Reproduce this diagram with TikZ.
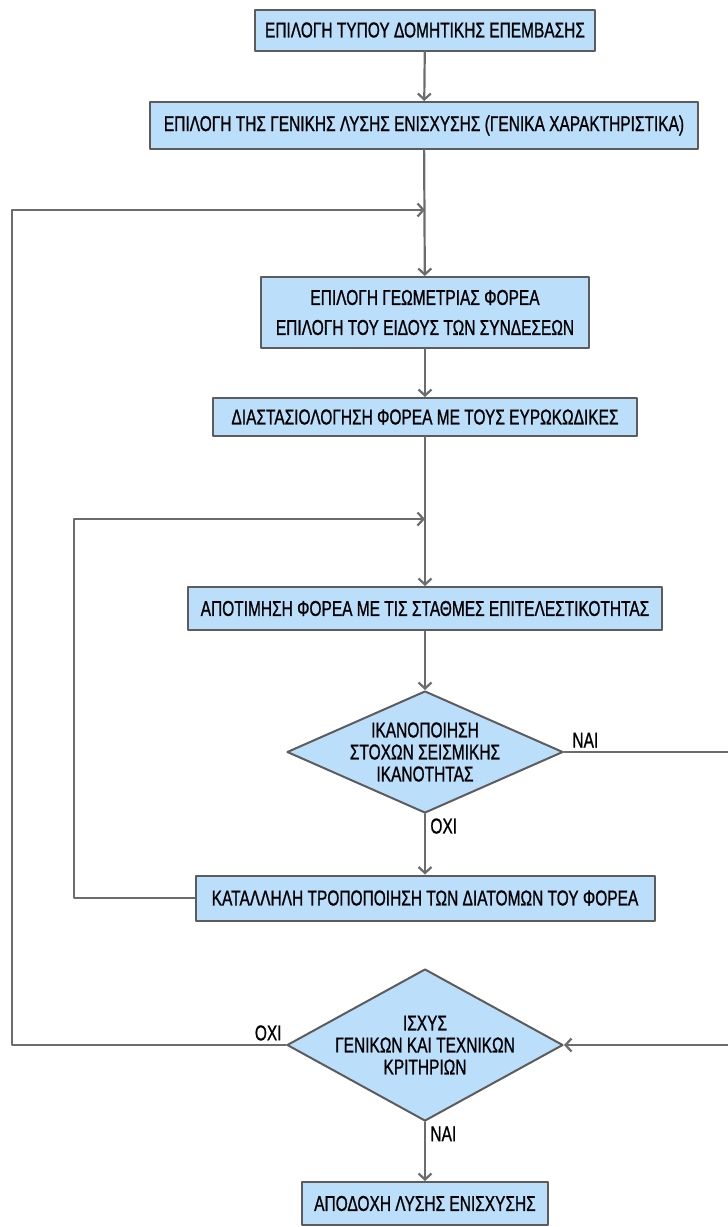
\documentclass[tikz,border=0pt]{standalone}
\usepackage{fontspec}
\setmainfont{Liberation Sans}[FakeStretch=0.72, FakeBold=0.9]
\usetikzlibrary{shapes.geometric,arrows.meta}

\definecolor{boxfill}{RGB}{187,222,251}
\definecolor{boxedge}{RGB}{92,92,92}
\definecolor{flowgray}{RGB}{108,108,108}

\begin{document}
\begin{tikzpicture}[x=1pt, y=1pt, line cap=round, line join=round, font=\fontsize{21.5}{22}\selectfont, >={Straight Barb[length=6pt,width=13pt]}]
	\tikzset{box style/.style={rectangle, draw=boxedge, line width=2pt, fill=boxfill, inner sep=0pt, text=black},
		decision style/.style={diamond, draw=boxedge, line width=2pt, fill=boxfill, inner sep=0pt, minimum width=276pt},
		flow style/.style={draw=flowgray, line width=2.2pt},
		label style/.style={text=black}}
	\useasboundingbox (0,0) rectangle (728,-1227);
	\node[box style, minimum width=340pt, minimum height=41pt] (tropos) at (425,-30) {ΕΠΙΛΟΓΗ ΤΥΠΟΥ ΔΟΜΗΤΙΚΗΣ ΕΠΕΜΒΑΣΗΣ};
	\node[box style, minimum width=548pt, minimum height=47pt] (lysi) at (424,-125.5) {ΕΠΙΛΟΓΗ ΤΗΣ ΓΕΝΙΚΗΣ ΛΥΣΗΣ ΕΝΙΣΧΥΣΗΣ (ΓΕΝΙΚΑ ΧΑΡΑΚΤΗΡΙΣΤΙΚΑ)};
	\node[box style, minimum width=328pt, minimum height=71pt, align=center] (geometria) at (425,-312.5) {ΕΠΙΛΟΓΗ ΓΕΩΜΕΤΡΙΑΣ ΦΟΡΕΑ\\[8pt]ΕΠΙΛΟΓΗ ΤΟΥ ΕΙΔΟΥΣ ΤΩΝ ΣΥΝΔΕΣΕΩΝ};
	\node[box style, minimum width=424pt, minimum height=38pt] (diastasio) at (425,-417) {ΔΙΑΣΤΑΣΙΟΛΟΓΗΣΗ ΦΟΡΕΑ ΜΕ ΤΟΥΣ ΕΥΡΩΚΩΔΙΚΕΣ};
	\node[box style, minimum width=474pt, minimum height=43pt] (apotimisi) at (425,-608.5) {ΑΠΟΤΙΜΗΣΗ ΦΟΡΕΑ ΜΕ ΤΙΣ ΣΤΑΘΜΕΣ ΕΠΙΤΕΛΕΣΤΙΚΟΤΗΤΑΣ};
	\node[decision style, minimum height=122pt] (stoxoi) at (425,-752) {};
	\node[align=center] (stoxoi text) at (stoxoi) {ΙΚΑΝΟΠΟΙΗΣΗ\\ΣΤΟΧΩΝ ΣΕΙΣΜΙΚΗΣ\\ΙΚΑΝΟΤΗΤΑΣ};
	\node[box style, minimum width=459pt, minimum height=45pt] (tropopoiisi) at (425,-898) {ΚΑΤΑΛΛΗΛΗ ΤΡΟΠΟΠΟΙΗΣΗ ΤΩΝ ΔΙΑΤΟΜΩΝ ΤΟΥ ΦΟΡΕΑ};
	\node[decision style, minimum height=152pt] (kritiria) at (425,-1045) {};
	\node[align=center] (kritiria text) at (kritiria) {ΙΣΧΥΣ\\ΓΕΝΙΚΩΝ ΚΑΙ ΤΕΧΝΙΚΩΝ\\ΚΡΙΤΗΡΙΩΝ};
	\node[box style, minimum width=246pt, minimum height=43pt] (apodoxi) at (425,-1203.5) {ΑΠΟΔΟΧΗ ΛΥΣΗΣ ΕΝΙΣΧΥΣΗΣ};
	% return points of the two loops and the side rails
	\coordinate (epistrofi1) at (425,-210);
	\coordinate (epistrofi2) at (425,-519);
	\coordinate (aristera1) at (12,0);
	\coordinate (aristera2) at (74,0);
	\coordinate (dexia) at (731,0);
	\draw[flow style, ->] (tropos) -- (lysi);
	\draw[flow style, ->] (lysi) -- (geometria);
	\draw[flow style, ->] (geometria) -- (diastasio);
	\draw[flow style, ->] (diastasio) -- (apotimisi);
	\draw[flow style, ->] (apotimisi) -- (stoxoi);
	\draw[flow style, ->] (stoxoi) -- node[label style, pos=0, below right, xshift=1pt]{ΟΧΙ} (tropopoiisi);
	\draw[flow style, ->] (kritiria) -- node[label style, pos=0, below right, xshift=1pt]{ΝΑΙ} (apodoxi);
	\draw[flow style, ->] (tropopoiisi.west) -- (tropopoiisi.west -| aristera2) |- (epistrofi2);
	\draw[flow style, ->] (kritiria.west) -- node[label style, pos=0, above left]{ΟΧΙ} (kritiria.west -| aristera1) |- (epistrofi1);
	\draw[flow style, ->] (stoxoi.east) -- node[label style, pos=0, above right, xshift=4pt]{ΝΑΙ} (stoxoi.east -| dexia) -- (kritiria.east -| dexia) -- (kritiria.east);
\end{tikzpicture}
\end{document}
